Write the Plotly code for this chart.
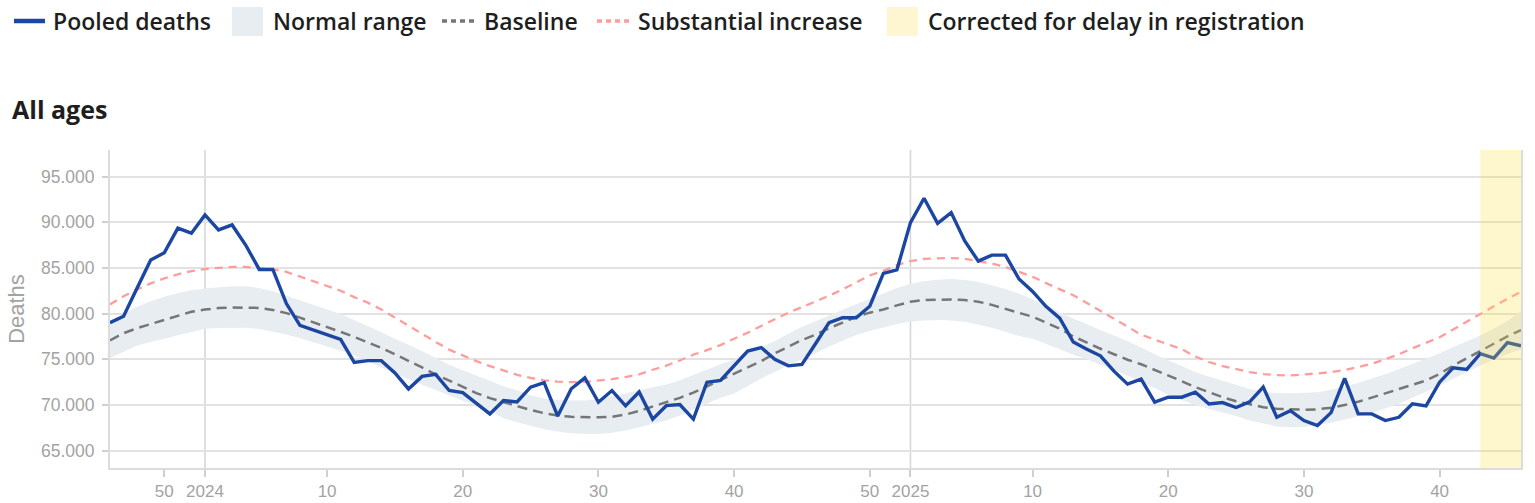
import plotly.graph_objects as go

# ---------------- data ----------------
years = [2023] * 7 + [2024] * 52 + [2025] * 46
weeks = list(range(46, 53)) + list(range(1, 53)) + list(range(1, 47))

pooled = [
    79000, 79700, 82800, 85850, 86650, 89350, 88800, 90800, 89150, 89700,
    87500, 84830, 84830, 81100, 78700, 78170, 77620, 77170, 74650, 74850,
    74850, 73500, 71750, 73120, 73340, 71580, 71350, 70190, 69020, 70480,
    70320, 71940, 72450, 68780, 71770, 72970, 70300, 71580, 69900, 71420,
    68450, 69920, 70040, 68450, 72490, 72680, 74330, 75900, 76280, 75000,
    74280, 74440, 76700, 79010, 79560, 79540, 80800, 84390, 84790, 89950,
    92620, 89880, 91050, 87940, 85740, 86400, 86400, 83780, 82420, 80760,
    79500, 76880, 76100, 75380, 73700, 72280, 72830, 70300, 70850, 70850,
    71390, 70100, 70260, 69720, 70330, 71950, 68650, 69380, 68290, 67740,
    69160, 72900, 69020, 69020, 68290, 68650, 70120, 69890, 72490, 74070,
    73890, 75610, 75130, 76820, 76480,
]

baseline = [
    77070, 77850, 78400, 78850, 79350, 79800, 80200, 80450, 80600, 80660,
    80660, 80620, 80400, 80050, 79550, 79050, 78550, 78000, 77450, 76850,
    76250, 75550, 74850, 74100, 73350, 72650, 71950, 71300, 70750, 70300,
    69850, 69450, 69100, 68850, 68700, 68650, 68650, 68700, 68950, 69350,
    69800, 70300, 70780, 71350, 72050, 72700, 73400, 74150, 74800, 75650,
    76400, 77100, 77700, 78400, 79000, 79650, 80100, 80450, 80900, 81300,
    81480, 81540, 81540, 81480, 81300, 80950, 80500, 80050, 79650, 79000,
    78350, 77500, 76800, 76150, 75550, 74950, 74450, 73850, 73200, 72600,
    71950, 71400, 70850, 70400, 70050, 69750, 69580, 69500, 69480, 69520,
    69700, 70000, 70350, 70800, 71250, 71700, 72200, 72680, 73400, 74300,
    75100, 75900, 76700, 77500, 78200,
]

upper = [
    79200, 80000, 80750, 81350, 81850, 82250, 82550, 82750, 82900, 83000,
    83000, 82800, 82450, 81950, 81450, 80950, 80450, 79950, 79300, 78650,
    77950, 77250, 76600, 75900, 75150, 74400, 73800, 73250, 72650, 72050,
    71600, 71050, 70700, 70550, 70480, 70500, 70650, 70950, 71250, 71600,
    71950, 72250, 72700, 73300, 73900, 74450, 74950, 75650, 76350, 77000,
    77800, 78550, 79150, 79800, 80450, 81050, 81600, 82200, 82800, 83250,
    83550, 83700, 83770, 83680, 83450, 83100, 82700, 82200, 81600, 80950,
    80100, 79450, 78850, 78200, 77600, 77000, 76300, 75550, 74900, 74250,
    73600, 73100, 72650, 72150, 71750, 71450, 71300, 71280, 71300, 71380,
    71650, 72000, 72400, 72900, 73350, 73900, 74450, 75050, 75650, 76350,
    76950, 77600, 78350, 79200, 80250,
]

lower = [
    75150, 75850, 76500, 76900, 77250, 77650, 78000, 78350, 78430, 78460,
    78460, 78300, 78000, 77700, 77300, 76850, 76400, 75950, 75400, 74750,
    74050, 73400, 72800, 72200, 71650, 71050, 70450, 69950, 69350, 68550,
    68100, 67700, 67350, 67100, 66900, 66830, 66820, 66950, 67200, 67550,
    67900, 68300, 68850, 69500, 70200, 70800, 71250, 72050, 72900, 73600,
    74350, 75000, 75650, 76400, 77000, 77650, 78100, 78500, 78850, 79100,
    79250, 79300, 79250, 79100, 78800, 78450, 78000, 77550, 77250, 76700,
    76100, 75500, 75000, 74400, 73850, 73200, 72500, 71800, 71150, 70550,
    70000, 69550, 69200, 68800, 68300, 67950, 67650, 67550, 67600, 67800,
    68050, 68400, 68750, 69150, 69600, 70150, 70800, 71450, 72100, 72900,
    73600, 74300, 75000, 75550, 76100,
]

substantial = [
    81000, 81900, 82650, 83300, 83850, 84300, 84650, 84870, 85000, 85100,
    85100, 85000, 84830, 84570, 84050, 83580, 83050, 82500, 81800, 81200,
    80450, 79550, 78700, 77800, 76900, 76050, 75400, 74800, 74250, 73800,
    73300, 72950, 72700, 72550, 72490, 72520, 72650, 72820, 73050, 73350,
    73850, 74300, 74870, 75500, 76000, 76550, 77250, 77900, 78650, 79400,
    80100, 80700, 81300, 81950, 82650, 83450, 84170, 84680, 85300, 85750,
    85980, 86050, 86070, 86000, 85730, 85480, 85100, 84600, 84020, 83330,
    82700, 82000, 81150, 80300, 79450, 78600, 77700, 77150, 76650, 76100,
    75300, 74700, 74250, 73900, 73590, 73380, 73260, 73230, 73320, 73450,
    73600, 73820, 74150, 74500, 75000, 75550, 76200, 76800, 77400, 78250,
    79100, 80000, 80800, 81600, 82400,
]

corrected_weeks = 4          # last weeks corrected for delay in registration
y_tick_values = [65000, 70000, 75000, 80000, 85000, 90000, 95000]
labelled_weeks = [10, 20, 30, 40, 50]
legend_labels = ["Pooled deaths", "Normal range", "Baseline",
                 "Substantial increase", "Corrected for delay in registration"]

# ---------------- colours ----------------
BLUE = "#1b46a1"
BAND = "#e8edf2"
GREY = "#767676"
PINK = "#ff9c9c"
YELLOW_OVER = "rgba(252,225,60,0.25)"
YELLOW_SWATCH = "#fdf6d0"
TICK_GREY = "#a3a3a3"

x = list(range(len(weeks)))
tickvals, ticktext = [], []
for i, (yr, wk) in enumerate(zip(years, weeks)):
    if wk == 1:
        tickvals.append(i)
        ticktext.append(str(yr))
    elif wk in labelled_weeks:
        tickvals.append(i)
        ticktext.append(str(wk))
year_starts = [i for i, wk in enumerate(weeks) if wk == 1]

fig = go.Figure()
fig.add_trace(go.Scatter(x=x, y=lower, mode="lines", line=dict(width=0),
                         showlegend=False, hoverinfo="skip"))
fig.add_trace(go.Scatter(x=x, y=upper, mode="lines", line=dict(width=0),
                         fill="tonexty", fillcolor=BAND, name=legend_labels[1],
                         showlegend=False, hoverinfo="skip"))
fig.add_trace(go.Scatter(x=x, y=baseline, mode="lines", name=legend_labels[2],
                         line=dict(color=GREY, width=2.5, dash="10px,6px"),
                         showlegend=False))
fig.add_trace(go.Scatter(x=x, y=substantial, mode="lines", name=legend_labels[3],
                         line=dict(color=PINK, width=2.3, dash="8px,6px"),
                         showlegend=False))
fig.add_trace(go.Scatter(x=x, y=pooled, mode="lines", name=legend_labels[0],
                         line=dict(color=BLUE, width=3.4), showlegend=False))

shapes = []
for ys in year_starts:
    shapes.append(dict(type="line", xref="x", yref="paper", x0=ys, x1=ys, y0=0, y1=1,
                       line=dict(color="#d4d4d4", width=1.5), layer="below"))
shapes.append(dict(type="rect", xref="x", yref="paper",
                   x0=x[len(x) - corrected_weeks], x1=x[-1], y0=0, y1=1,
                   fillcolor=YELLOW_OVER, line=dict(width=0), layer="above"))

# ---------------- manual legend (pixel layout) ----------------
W, H = 1535, 503
ML, MR, MT, MB = 110, 14, 150, 35
PW, PH = W - ML - MR, H - MT - MB


def px_x(p):
    return (p - ML) / PW


def px_y(p):
    return (H - MB - p) / PH


LEG_Y = 21
shapes.append(dict(type="line", xref="paper", yref="paper",
                   x0=px_x(14), x1=px_x(45), y0=px_y(LEG_Y), y1=px_y(LEG_Y),
                   line=dict(color=BLUE, width=4.5)))
shapes.append(dict(type="rect", xref="paper", yref="paper",
                   x0=px_x(232), x1=px_x(263), y0=px_y(7), y1=px_y(36),
                   fillcolor=BAND, line=dict(width=0)))
shapes.append(dict(type="line", xref="paper", yref="paper",
                   x0=px_x(442), x1=px_x(478), y0=px_y(LEG_Y), y1=px_y(LEG_Y),
                   line=dict(color=GREY, width=3.5, dash="5px,4px")))
shapes.append(dict(type="line", xref="paper", yref="paper",
                   x0=px_x(597), x1=px_x(633), y0=px_y(LEG_Y), y1=px_y(LEG_Y),
                   line=dict(color=PINK, width=3.5, dash="5px,4px")))
shapes.append(dict(type="rect", xref="paper", yref="paper",
                   x0=px_x(887), x1=px_x(918), y0=px_y(7), y1=px_y(36),
                   fillcolor=YELLOW_SWATCH, line=dict(width=0)))

annotations = []
for label, left in zip(legend_labels, [51, 271, 482, 636, 926]):
    annotations.append(dict(text=label, xref="paper", yref="paper",
                            x=px_x(left), y=px_y(LEG_Y), xanchor="left", yanchor="middle",
                            showarrow=False,
                            font=dict(family="Open Sans", size=23, color="#1e1e1e",
                                      weight=600)))
annotations.append(dict(text="All ages", xref="paper", yref="paper",
                        x=px_x(10), y=px_y(109), xanchor="left", yanchor="middle",
                        showarrow=False,
                        font=dict(family="Open Sans", size=25, color="#1e1e1e", weight=700)))

fig.update_layout(
    width=W, height=H,
    margin=dict(l=ML, r=MR, t=MT, b=MB, pad=0, autoexpand=False),
    paper_bgcolor="white", plot_bgcolor="white",
    separators=",.",
    showlegend=False,
    hovermode=False,
    shapes=shapes,
    annotations=annotations,
    xaxis=dict(range=[x[0], x[-1]], tickmode="array", tickvals=tickvals, ticktext=ticktext,
               automargin=False,
               showgrid=False, zeroline=False, showline=True, linecolor="#dcdcdc",
               linewidth=2, ticks="outside", ticklen=7, tickwidth=1.5, tickcolor="#cfcfcf",
               tickfont=dict(family="Liberation Sans", size=17, color=TICK_GREY),
               fixedrange=True),
    yaxis=dict(range=[63100, 97900], tickmode="array", tickvals=y_tick_values,
               automargin=False,
               tickformat=",d", showgrid=True, gridcolor="#e2e2e2", gridwidth=2,
               zeroline=False, showline=True, mirror=True, linecolor="#dcdcdc", linewidth=2,
               ticks="outside", ticklen=6, tickwidth=2, tickcolor="#cfcfcf",
               ticklabelstandoff=4,
               tickfont=dict(family="Liberation Sans", size=17.5, color=TICK_GREY),
               title=dict(text="Deaths", standoff=10,
                          font=dict(family="Liberation Sans", size=22, color=TICK_GREY)),
               fixedrange=True),
)

fig.write_html("out.html", config={"displayModeBar": False},
               post_script="document.body.style.margin='0';")
